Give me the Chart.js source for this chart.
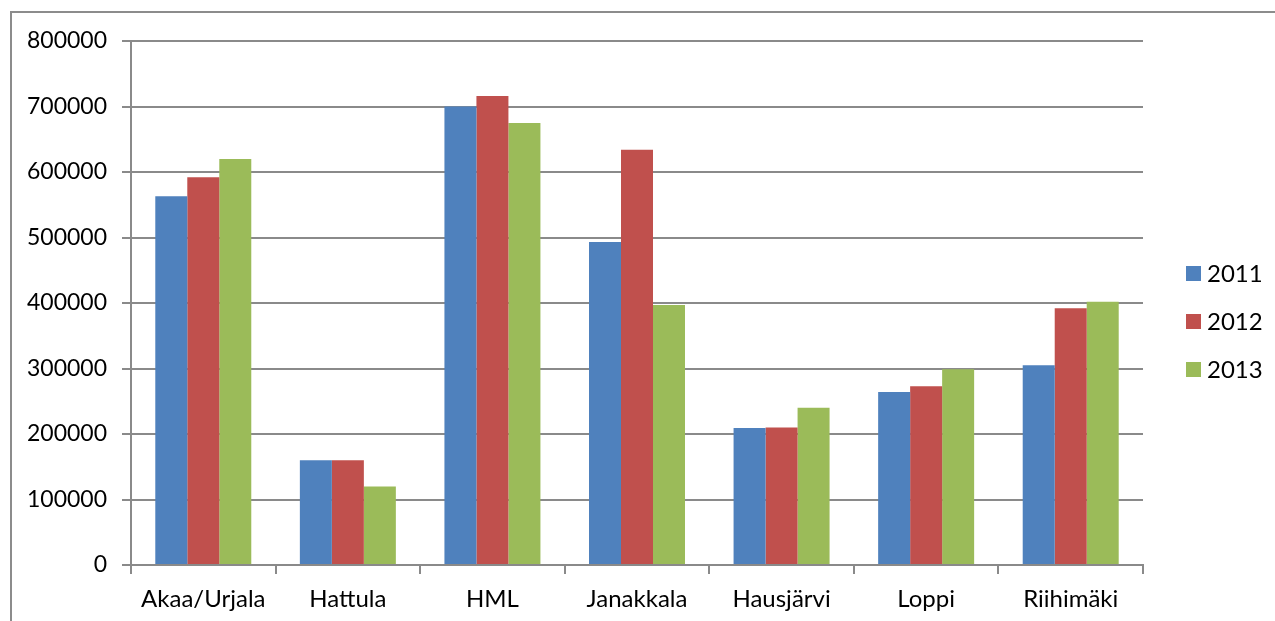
<!DOCTYPE html>
<html>
<head>
<meta charset="utf-8">
<script src="https://cdn.jsdelivr.net/npm/chart.js@4.4.1/dist/chart.umd.min.js"></script>
<style>
  html, body { margin: 0; padding: 0; background: #fff; }
  #wrap { width: 1275px; height: 621px; }
</style>
</head>
<body>
<div id="wrap"><canvas id="chart" width="1275" height="621"></canvas></div>
<script>
// kunnat
const categories = ['Akaa/Urjala', 'Hattula', 'HML', 'Janakkala', 'Hausjärvi', 'Loppi', 'Riihimäki'];
const years = ['2011', '2012', '2013'];
const values2011 = [563000, 160000, 700000, 493000, 209000, 264000, 305000];
const values2012 = [592000, 160000, 716000, 634000, 210000, 273000, 392000];
const values2013 = [620000, 120000, 675000, 397000, 240000, 299000, 402000];
const colors = ['#4F81BD', '#C0504D', '#9BBB59'];

const FONT = 'Lato, "DejaVu Sans", sans-serif';
const GRID = '#8a8a8a';

// frame + legend drawn by hand
const frameAndLegend = {
    id: 'frameAndLegend',
    afterDraw(chart) {
        const ctx = chart.ctx;
        ctx.save();
        ctx.strokeStyle = '#8c8c8c';
        ctx.lineWidth = 2;
        ctx.strokeRect(11, 12, 1400, 800);

        ctx.font = '24px ' + FONT;
        ctx.textBaseline = 'middle';
        ctx.textAlign = 'left';
        chart.data.datasets.forEach((ds, i) => {
            const y = 273 + i * 48;
            ctx.fillStyle = ds.backgroundColor;
            ctx.fillRect(1186, y - 7, 15, 15);
            ctx.fillStyle = '#000';
            ctx.fillText(ds.label, 1207, y + 1);
        });
        ctx.restore();
    }
};

const ctx = document.getElementById('chart').getContext('2d');
const data = {
    labels: categories,
    datasets: [
        { label: years[0], data: values2011, backgroundColor: colors[0] },
        { label: years[1], data: values2012, backgroundColor: colors[1] },
        { label: years[2], data: values2013, backgroundColor: colors[2] }
    ]
};

let mychart = new Chart(ctx, {
    type: 'bar',
    data,
    options: {
        responsive: false,
        animation: false,
        layout: { padding: { left: 0, top: 41, right: 132, bottom: 0 } },
        datasets: {
            bar: { categoryPercentage: 0.664, barPercentage: 1.0, borderWidth: 0 }
        },
        plugins: {
            legend: { display: false },
            tooltip: { enabled: false }
        },
        scales: {
            x: {
                afterFit(scale) { scale.height = 56; },
                grid: {
                    offset: true,
                    drawOnChartArea: false,
                    drawTicks: true,
                    tickLength: 9,
                    color: GRID,
                    lineWidth: 2
                },
                border: { color: GRID, width: 2 },
                ticks: { color: '#000', font: { family: FONT, size: 24 }, padding: 11, maxRotation: 0 }
            },
            y: {
                min: 0,
                max: 800000,
                afterFit(scale) { scale.width = 131; },
                grid: { color: GRID, lineWidth: 2, tickLength: 9, drawTicks: true },
                border: { color: GRID, width: 2 },
                ticks: {
                    stepSize: 100000,
                    color: '#000',
                    padding: 15,
                    font: { family: FONT, size: 23 },
                    callback: v => String(v)
                }
            }
        }
    },
    plugins: [frameAndLegend]
});
</script>
</body>
</html>
